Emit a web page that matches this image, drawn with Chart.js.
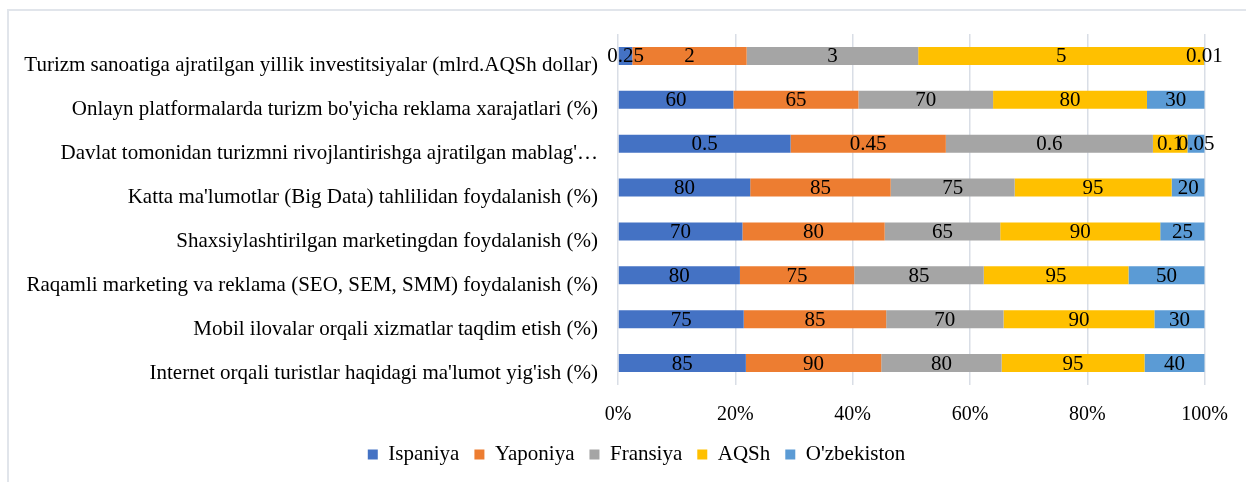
<!DOCTYPE html>
<html>
<head>
<meta charset="utf-8">
<script src="https://cdn.jsdelivr.net/npm/chart.js@4.4.1/dist/chart.umd.min.js"></script>
<style>
  body { margin: 0; background: #fff; }
  #frame { position: absolute; left: 7px; top: 9px; width: 1239px; height: 473px;
           border-left: 2px solid #e1e5eb; border-top: 2px solid #e1e5eb; }
  #chart { position: absolute; left: 0; top: 0; }
</style>
</head>
<body>
<div id="frame"></div>
<canvas id="chart" width="1246" height="482"></canvas>
<script>
let categories = [
    "Turizm sanoatiga ajratilgan yillik investitsiyalar (mlrd.AQSh dollar)",
    "Onlayn platformalarda turizm bo'yicha reklama xarajatlari (%)",
    "Davlat tomonidan turizmni rivojlantirishga ajratilgan mablag'\u2026",
    "Katta ma'lumotlar (Big Data) tahlilidan foydalanish (%)",
    "Shaxsiylashtirilgan marketingdan foydalanish (%)",
    "Raqamli marketing va reklama (SEO, SEM, SMM) foydalanish (%)",
    "Mobil ilovalar orqali xizmatlar taqdim etish (%)",
    "Internet orqali turistlar haqidagi ma'lumot yig'ish (%)"
];

let ispaniya    = [0.25, 60, 0.5, 80, 70, 80, 75, 85];
let yaponiya    = [2,    65, 0.45, 85, 80, 75, 85, 90];
let fransiya    = [3,    70, 0.6, 75, 65, 85, 70, 80];
let aqsh        = [5,    80, 0.1, 95, 90, 95, 90, 95];
let ozbekiston  = [0.01, 30, 0.05, 20, 25, 50, 30, 40];

let seriesNames = ["Ispaniya", "Yaponiya", "Fransiya", "AQSh", "O'zbekiston"];
let seriesValues = [ispaniya, yaponiya, fransiya, aqsh, ozbekiston];
let colors = ["#4472C4", "#ED7D31", "#A5A5A5", "#FFC000", "#5B9BD5"];

let xTicks = [0, 20, 40, 60, 80, 100];

// row totals, so each bar is a share of 100%
let totals = categories.map((c, i) => seriesValues.reduce((s, arr) => s + arr[i], 0));

let font = "'Liberation Serif', 'Times New Roman', serif";

let valueLabels = {
    id: "valueLabels",
    afterDatasetsDraw(chart) {
        let ctx = chart.ctx;
        ctx.save();
        ctx.font = "21px " + font;
        ctx.fillStyle = "#000";
        ctx.textAlign = "center";
        ctx.textBaseline = "middle";
        chart.data.datasets.forEach((ds, di) => {
            chart.getDatasetMeta(di).data.forEach((bar, i) => {
                let x = (bar.x + bar.base) / 2;
                ctx.fillText(String(ds.raw[i]), x, bar.y + 1);
            });
        });
        ctx.restore();
    }
};

// legend takes a bit less room and sits a bit right/up, like in the original
let legendShift = {
    id: "legendShift",
    afterInit(chart) {
        let lg = chart.legend;
        let fit = lg.fit.bind(lg);
        lg.fit = function () { fit(); this.height -= 9; };
    },
    afterLayout(chart) {
        let lg = chart.legend;
        lg.left += 25;
        lg.right += 25;
        lg.top -= 16;
        lg.bottom -= 16;
    }
};

let chartCanvas = document.getElementById("chart").getContext("2d");
let graph = new Chart(chartCanvas, {
    type: "bar",
    data: {
        labels: categories,
        datasets: seriesNames.map((name, k) => ({
            label: name,
            raw: seriesValues[k],
            data: seriesValues[k].map((v, i) => v / totals[i] * 100),
            backgroundColor: colors[k],
            borderWidth: 0,
            barPercentage: 0.41,
            categoryPercentage: 1
        }))
    },
    options: {
        indexAxis: "y",
        responsive: false,
        animation: false,
        layout: { padding: { left: 10, right: 33, top: 34, bottom: 0 } },
        plugins: {
            tooltip: { enabled: false },
            legend: {
                position: "bottom",
                labels: {
                    font: { family: font, size: 21 },
                    color: "#000",
                    boxWidth: 10,
                    boxHeight: 10,
                    padding: 15
                }
            }
        },
        scales: {
            x: {
                stacked: true,
                min: 0,
                max: 100,
                afterBuildTicks(scale) {
                    scale.ticks = xTicks.map(v => ({ value: v }));
                },
                ticks: {
                    callback: v => v + "%",
                    font: { family: font, size: 20 },
                    color: "#000",
                    padding: 18
                },
                grid: { color: "#d9dee6", lineWidth: 1.5, drawTicks: false },
                border: { display: false }
            },
            y: {
                stacked: true,
                afterFit(scale) { scale.width = 608; },
                ticks: {
                    font: { family: font, size: 21 },
                    color: "#000",
                    padding: 12,
                    labelOffset: 10,
                    autoSkip: false
                },
                grid: { display: false },
                border: { display: false }
            }
        }
    },
    plugins: [valueLabels, legendShift]
});
</script>
</body>
</html>
